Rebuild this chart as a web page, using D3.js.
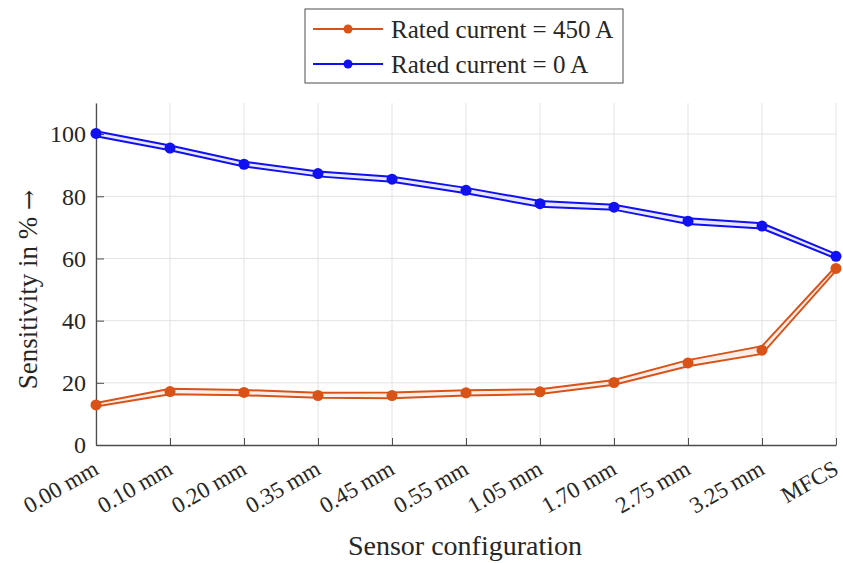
<!DOCTYPE html>
<html>
<head>
<meta charset="utf-8">
<script src="https://cdn.jsdelivr.net/npm/d3@7"></script>
<style>
  body { margin: 0; background: #fff; }
  svg { display: block; }
  .grid line { stroke: #e3e3e3; stroke-width: 1px; }
</style>
</head>
<body>
<div id="chart"></div>
<script>
// categories on the x axis
const categories = ['0.00 mm', '0.10 mm', '0.20 mm', '0.35 mm', '0.45 mm', '0.55 mm',
                    '1.05 mm', '1.70 mm', '2.75 mm', '3.25 mm', 'MFCS'];

// Rated current = 450 A : mean, upper and lower bound
const mean450  = [12.9, 17.2, 16.9, 15.9, 15.9, 16.8, 17.1, 20.1, 26.4, 30.5, 56.8];
const upper450 = [13.5, 18.1, 17.7, 16.8, 16.9, 17.6, 17.9, 20.9, 27.3, 31.8, 57.5];
const lower450 = [12.4, 16.3, 16.0, 15.2, 15.0, 15.9, 16.4, 19.4, 25.3, 29.3, 56.1];

// Rated current = 0 A : mean, upper and lower bound
const mean0  = [100.2, 95.5, 90.3, 87.3, 85.5, 81.9, 77.6, 76.5, 72.0, 70.4, 60.7];
const upper0 = [100.9, 96.3, 91.1, 88.0, 86.3, 82.7, 78.5, 77.3, 72.9, 71.3, 61.4];
const lower0 = [99.3, 94.8, 89.6, 86.4, 84.7, 81.0, 76.6, 75.7, 71.1, 69.6, 60.0];

const yTicks = [0, 20, 40, 60, 80, 100];

const width = 843, height = 563;
const margin = { top: 103, right: 7, bottom: 118, left: 96 };
const serif = "'Liberation Serif', 'DejaVu Serif', serif";
const ink = '#262626';

const svg = d3.select('#chart').append('svg')
    .attr('width', width)
    .attr('height', height);

const x = d3.scalePoint()
    .domain(categories)
    .range([margin.left, width - margin.right]);

const y = d3.scaleLinear()
    .domain([0, 110])
    .range([height - margin.bottom, margin.top]);

// grid
const grid = svg.append('g').attr('class', 'grid');
grid.selectAll('.vg').data(categories).enter().append('line')
    .attr('x1', d => x(d)).attr('x2', d => x(d))
    .attr('y1', y(0)).attr('y2', y(110));
grid.selectAll('.hg').data(yTicks.filter(t => t > 0)).enter().append('line')
    .attr('x1', x.range()[0]).attr('x2', x.range()[1])
    .attr('y1', d => y(d)).attr('y2', d => y(d));

// axes (MATLAB style: ticks pointing inwards)
const xAxis = svg.append('g')
    .attr('transform', `translate(0,${y(0)})`)
    .call(d3.axisBottom(x).tickSizeInner(-7).tickSizeOuter(0).tickFormat(''));
const yAxis = svg.append('g')
    .attr('transform', `translate(${margin.left},0)`)
    .call(d3.axisLeft(y).tickValues(yTicks).tickSizeInner(-8).tickSizeOuter(0).tickFormat(''));
[xAxis, yAxis].forEach(a => {
    a.select('.domain').attr('stroke', '#4d4d4d').attr('stroke-width', 1.3);
    a.selectAll('.tick line').attr('stroke', '#4d4d4d').attr('stroke-width', 1);
});

// tick labels
svg.append('g').selectAll('text').data(categories).enter().append('text')
    .attr('transform', d => `translate(${x(d) + 4},${y(0) + 28}) rotate(-30)`)
    .attr('text-anchor', 'end')
    .style('font-family', serif).style('font-size', '23px').attr('fill', ink)
    .text(d => d);

svg.append('g').selectAll('text').data(yTicks).enter().append('text')
    .attr('x', margin.left - 10)
    .attr('y', d => y(d))
    .attr('dy', '0.35em')
    .attr('text-anchor', 'end')
    .style('font-family', serif).style('font-size', '24px').attr('fill', ink)
    .text(d => d);

// axis titles
svg.append('text')
    .attr('x', 465).attr('y', 555)
    .attr('text-anchor', 'middle')
    .style('font-family', serif).style('font-size', '28px').attr('fill', ink)
    .text('Sensor configuration');

const yTitle = svg.append('text')
    .attr('transform', `translate(37,${y(50)}) rotate(-90)`)
    .attr('text-anchor', 'middle')
    .style('font-family', serif).style('font-size', '27px').attr('fill', ink);
yTitle.append('tspan').text('Sensitivity in % ');
yTitle.append('tspan').style('font-family', "'DejaVu Serif', serif").style('font-size', '24px').text('\u2192');

// series
const series = [
    { name: 'Rated current = 450 A', color: '#d95319', mean: mean450, upper: upper450, lower: lower450 },
    { name: 'Rated current = 0 A', color: '#1010f0', mean: mean0, upper: upper0, lower: lower0 }
];

const line = d3.line().x(d => x(d.c)).y(d => y(d.v));
const area = d3.area().x(d => x(d.c)).y0(d => y(d.lo)).y1(d => y(d.hi));

series.forEach(s => {
    const g = svg.append('g');
    const rows = categories.map((c, i) => ({ c, hi: s.upper[i], lo: s.lower[i], m: s.mean[i] }));
    g.append('path').datum(rows)
        .attr('d', area)
        .attr('fill', s.color).attr('fill-opacity', 0.1);
    ['upper', 'lower'].forEach(k => {
        g.append('path')
            .datum(categories.map((c, i) => ({ c, v: s[k][i] })))
            .attr('d', line)
            .attr('fill', 'none')
            .attr('stroke', s.color)
            .attr('stroke-width', 2);
    });
    g.selectAll('circle').data(rows).enter().append('circle')
        .attr('cx', d => x(d.c))
        .attr('cy', d => y(d.m))
        .attr('r', 5.5)
        .attr('fill', s.color);
});

// legend
const legend = svg.append('g').attr('transform', 'translate(305,9)');
legend.append('rect')
    .attr('width', 318).attr('height', 74)
    .attr('fill', '#fff')
    .attr('stroke', '#4d4d4d').attr('stroke-width', 1);
series.forEach((s, i) => {
    const row = legend.append('g').attr('transform', `translate(0,${20 + i * 35})`);
    row.append('line')
        .attr('x1', 8).attr('x2', 78)
        .attr('stroke', s.color).attr('stroke-width', 2);
    row.append('circle').attr('cx', 43).attr('r', 4.5).attr('fill', s.color);
    row.append('text')
        .attr('x', 86).attr('dy', '0.35em')
        .style('font-family', serif).style('font-size', '25px').attr('fill', ink)
        .text(s.name);
});
</script>
</body>
</html>
